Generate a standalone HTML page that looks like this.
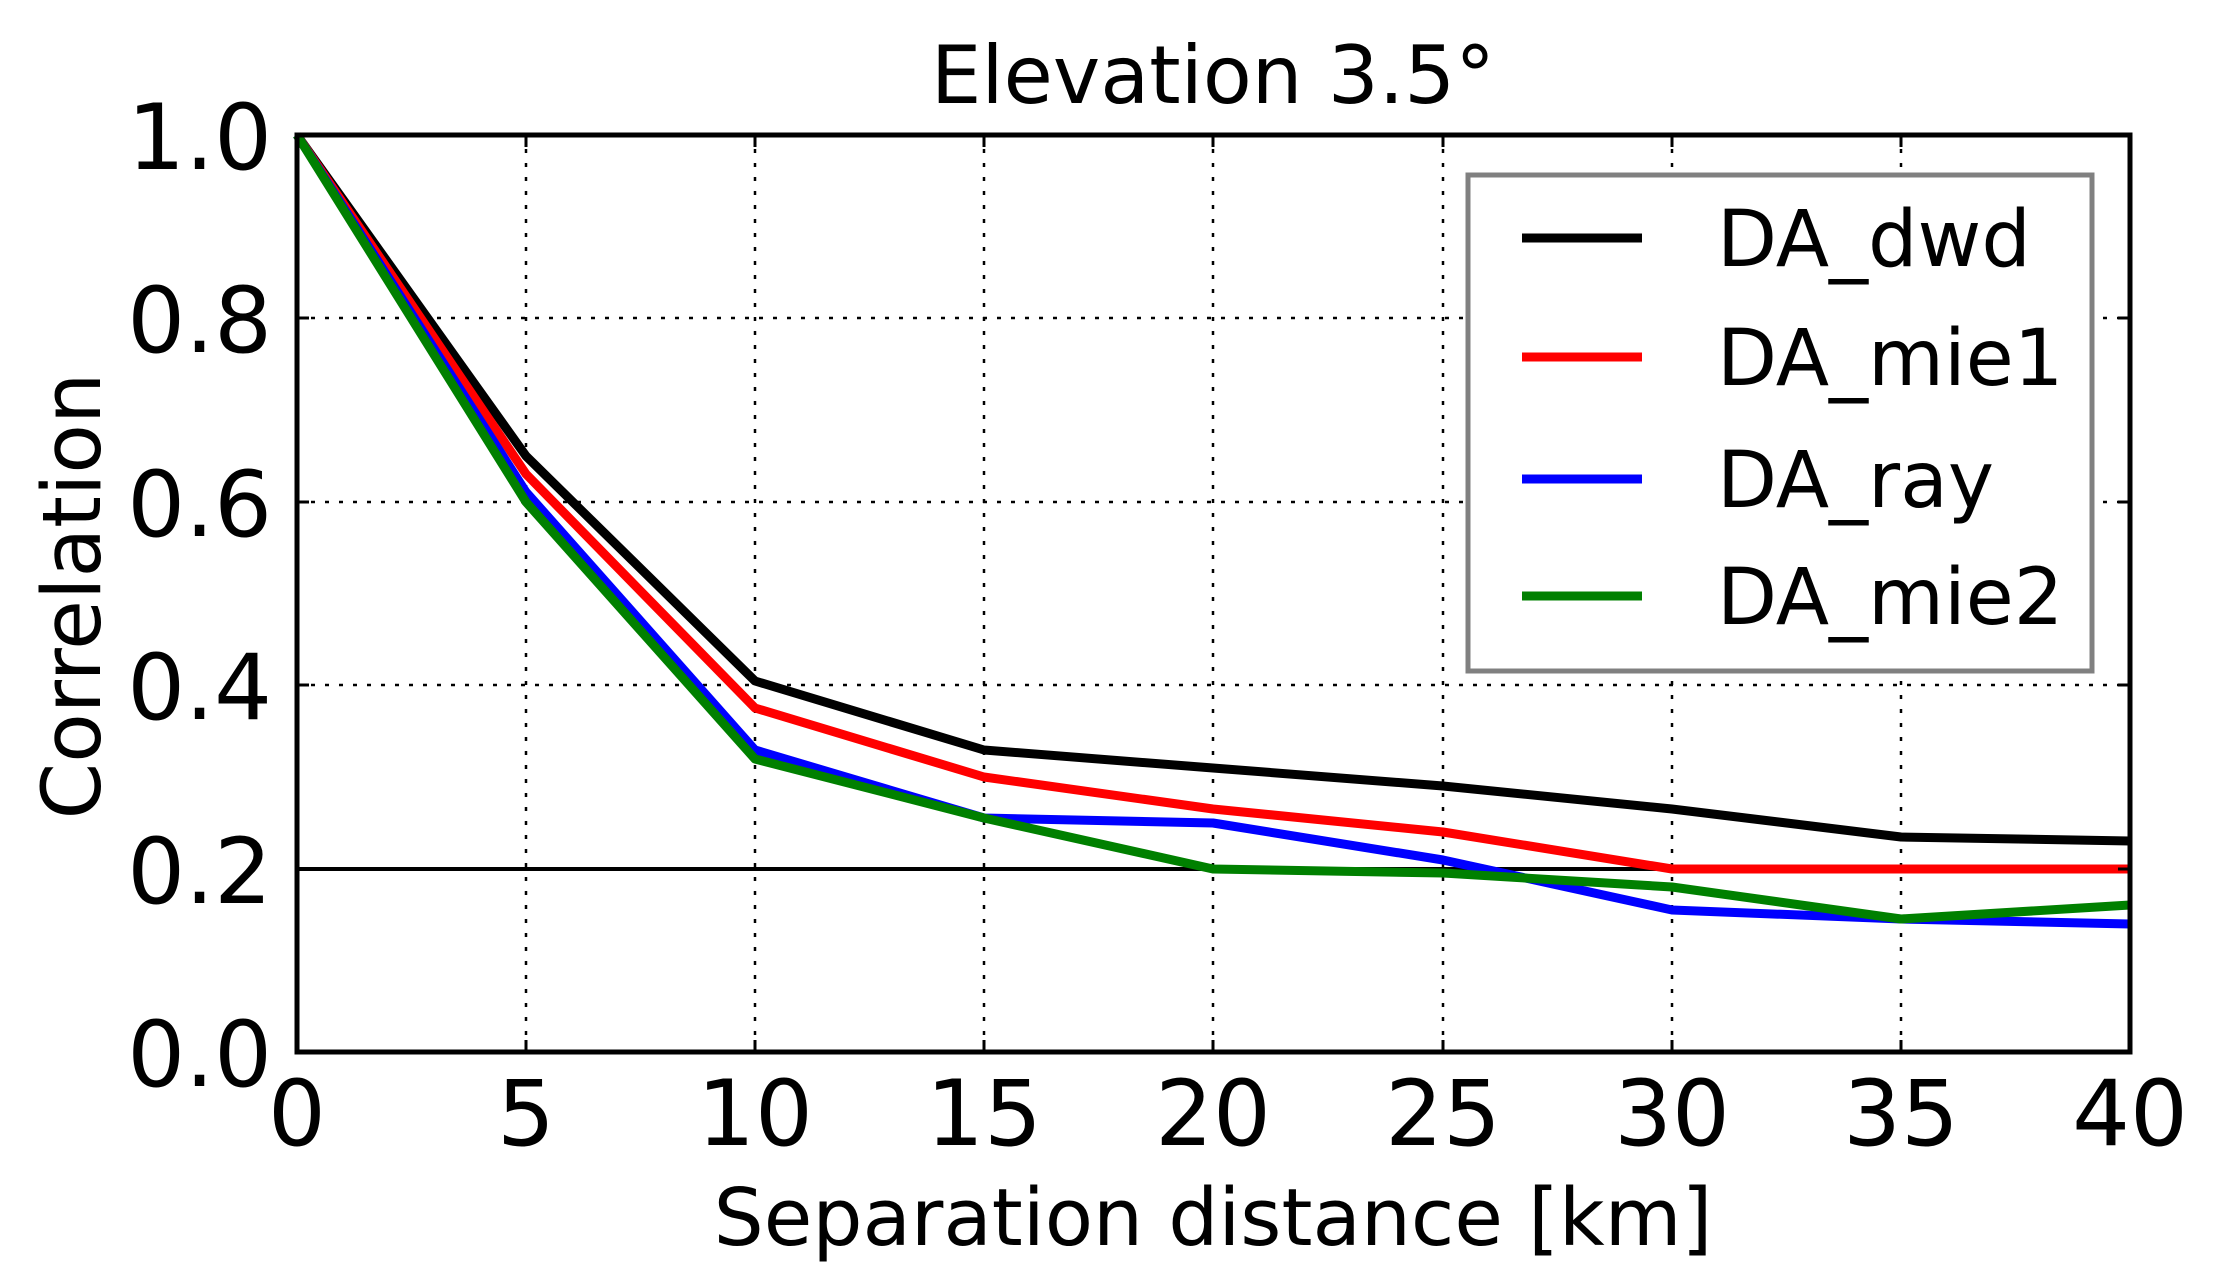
<!DOCTYPE html>
<html><head><meta charset="utf-8"><style>html,body{margin:0;padding:0;background:#fff}svg{display:block}</style></head>
<body>
<svg width="2224" height="1288" viewBox="0 0 2224 1288" xmlns="http://www.w3.org/2000/svg" font-family="'DejaVu Sans','Liberation Sans',sans-serif">
<rect width="2224" height="1288" fill="#fff"/>
<g stroke="#000" stroke-width="2.5" stroke-dasharray="4,10">
<line x1="526" y1="135" x2="526" y2="1052"/><line x1="755" y1="135" x2="755" y2="1052"/><line x1="984" y1="135" x2="984" y2="1052"/><line x1="1213" y1="135" x2="1213" y2="1052"/><line x1="1443" y1="135" x2="1443" y2="1052"/><line x1="1672" y1="135" x2="1672" y2="1052"/><line x1="1901" y1="135" x2="1901" y2="1052"/>
<line x1="297" y1="318" x2="2130" y2="318"/><line x1="297" y1="502" x2="2130" y2="502"/><line x1="297" y1="685" x2="2130" y2="685"/>
</g>
<line x1="297" y1="869" x2="2130" y2="869" stroke="#000" stroke-width="4"/>
<g fill="none" stroke-width="9" stroke-linejoin="round">
<polyline stroke="#000" points="297,135 526,456 755,681 984,750 1213,768 1443,786 1672,809 1901,837 2130,841"/>
<polyline stroke="#f00" points="297,135 526,474 755,708 984,777 1213,809 1443,832 1672,869 1901,869 2130,869"/>
<polyline stroke="#00f" points="297,135 526,492 755,750 984,818 1213,823 1443,860 1672,910 1901,919 2130,924"/>
<polyline stroke="#008000" points="297,135 526,502 755,759 984,818 1213,869 1443,873 1672,887 1901,919 2130,905"/>
</g>
<rect x="297" y="135" width="1833" height="917" fill="none" stroke="#000" stroke-width="5"/>
<g stroke="#000" stroke-width="3">
<line x1="526" y1="1052" x2="526" y2="1040"/><line x1="755" y1="1052" x2="755" y2="1040"/><line x1="984" y1="1052" x2="984" y2="1040"/><line x1="1213" y1="1052" x2="1213" y2="1040"/><line x1="1443" y1="1052" x2="1443" y2="1040"/><line x1="1672" y1="1052" x2="1672" y2="1040"/><line x1="1901" y1="1052" x2="1901" y2="1040"/>
<line x1="526" y1="135" x2="526" y2="147"/><line x1="755" y1="135" x2="755" y2="147"/><line x1="984" y1="135" x2="984" y2="147"/><line x1="1213" y1="135" x2="1213" y2="147"/><line x1="1443" y1="135" x2="1443" y2="147"/><line x1="1672" y1="135" x2="1672" y2="147"/><line x1="1901" y1="135" x2="1901" y2="147"/>
<line x1="297" y1="318" x2="309" y2="318"/><line x1="297" y1="502" x2="309" y2="502"/><line x1="297" y1="685" x2="309" y2="685"/><line x1="297" y1="869" x2="309" y2="869"/>
<line x1="2130" y1="318" x2="2118" y2="318"/><line x1="2130" y1="502" x2="2118" y2="502"/><line x1="2130" y1="685" x2="2118" y2="685"/><line x1="2130" y1="869" x2="2118" y2="869"/>
</g>
<rect x="1468" y="175" width="624" height="496" fill="#fff" stroke="#808080" stroke-width="5"/>
<g stroke-width="9"><line x1="1522" y1="238" x2="1642" y2="238" stroke="#000"/><line x1="1522" y1="357" x2="1642" y2="357" stroke="#f00"/><line x1="1522" y1="479" x2="1642" y2="479" stroke="#00f"/><line x1="1522" y1="596" x2="1642" y2="596" stroke="#008000"/></g>
<g font-size="78" fill="#000">
<text x="1717" y="266">DA_dwd</text><text x="1717" y="385">DA_mie1</text><text x="1717" y="507">DA_ray</text><text x="1717" y="624">DA_mie2</text>
</g>
<g font-size="91" fill="#000" text-anchor="end">
<text x="272" y="169">1.0</text><text x="272" y="352">0.8</text><text x="272" y="536">0.6</text><text x="272" y="719">0.4</text><text x="272" y="903">0.2</text><text x="272" y="1086">0.0</text>
</g>
<g font-size="91" fill="#000" text-anchor="middle">
<text x="297" y="1145">0</text><text x="526" y="1145">5</text><text x="755" y="1145">10</text><text x="984" y="1145">15</text><text x="1213" y="1145">20</text><text x="1443" y="1145">25</text><text x="1672" y="1145">30</text><text x="1901" y="1145">35</text><text x="2130" y="1145">40</text>
</g>
<text x="1213" y="1245" font-size="79" text-anchor="middle">Separation distance [km]</text>
<text x="1213" y="103" font-size="80" text-anchor="middle">Elevation 3.5°</text>
<text transform="translate(100,596) rotate(-90)" font-size="81" text-anchor="middle">Correlation</text>
</svg>
</body></html>
